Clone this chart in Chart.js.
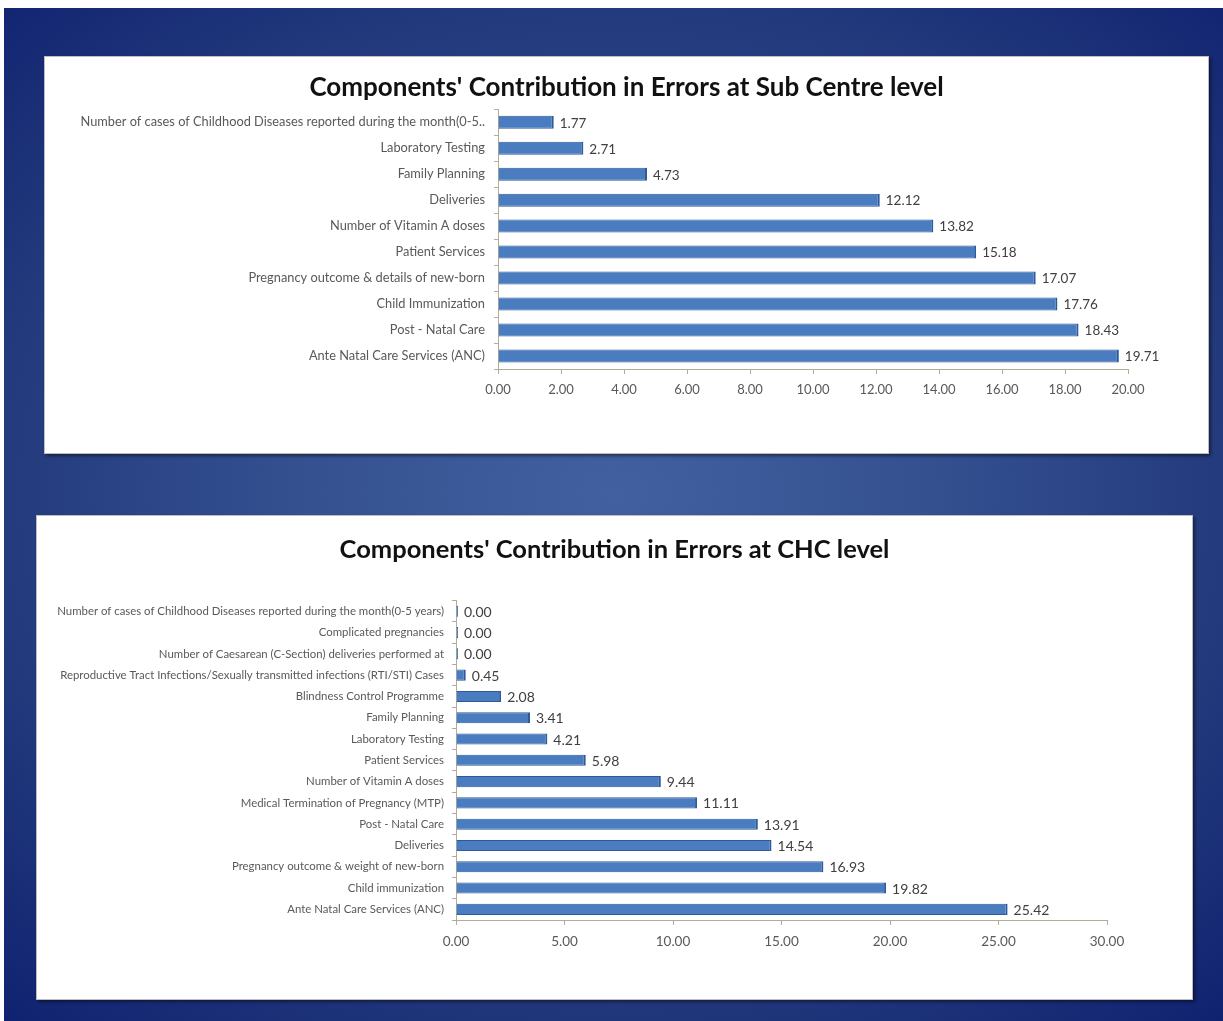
<!DOCTYPE html>
<html>
<head>
<meta charset="utf-8">
<script src="https://cdn.jsdelivr.net/npm/chart.js@4.4.1/dist/chart.umd.min.js"></script>
<style>
  html, body { margin: 0; padding: 0; background: #ffffff; }
  body { width: 1223px; height: 1021px; position: relative; overflow: hidden; }
  #bg {
    position: absolute; left: 4px; top: 8px; right: 0; bottom: 0;
    background: radial-gradient(ellipse 75% 70% at 50% 48%, #4260a0 0%, #34508f 35%, #22397c 70%, #0f2270 100%);
  }
  .panel {
    position: absolute; background: #ffffff;
    border: 1px solid #bdbdbd;
    box-shadow: 2px 2px 3px rgba(0,0,0,0.45);
  }
  .panel canvas { display: block; }
</style>
</head>
<body>
<div id="bg"></div>
<div class="panel" id="p1" style="left:44px; top:56px; width:1163px; height:396px;">
  <canvas id="c1" width="1163" height="396"></canvas>
</div>
<div class="panel" id="p2" style="left:36px; top:515px; width:1155px; height:483px;">
  <canvas id="c2" width="1155" height="483"></canvas>
</div>
<script>
// ---- Data: Sub Centre level ----
const subTitle = "Components' Contribution in Errors at Sub Centre level";
const subCategories = [
  "Number of cases of Childhood Diseases reported during the month(0-5..",
  "Laboratory Testing",
  "Family Planning",
  "Deliveries",
  "Number of Vitamin A doses",
  "Patient Services",
  "Pregnancy outcome & details of new-born",
  "Child Immunization",
  "Post - Natal Care",
  "Ante Natal Care Services (ANC)"
];
const subValues = [1.77, 2.71, 4.73, 12.12, 13.82, 15.18, 17.07, 17.76, 18.43, 19.71];
const subAxisMax = 20;
const subAxisStep = 2;

// ---- Data: CHC level ----
const chcTitle = "Components' Contribution in Errors at CHC level";
const chcCategories = [
  "Number of cases of Childhood Diseases reported during the month(0-5 years)",
  "Complicated pregnancies",
  "Number of Caesarean (C-Section) deliveries performed at",
  "Reproductive Tract Infections/Sexually transmitted infections (RTI/STI) Cases",
  "Blindness Control Programme",
  "Family Planning",
  "Laboratory Testing",
  "Patient Services",
  "Number of Vitamin A doses",
  "Medical Termination of Pregnancy (MTP)",
  "Post - Natal Care",
  "Deliveries",
  "Pregnancy outcome & weight of new-born",
  "Child immunization",
  "Ante Natal Care Services (ANC)"
];
const chcValues = [0.00, 0.00, 0.00, 0.45, 2.08, 3.41, 4.21, 5.98, 9.44, 11.11, 13.91, 14.54, 16.93, 19.82, 25.42];
const chcAxisMax = 30;
const chcAxisStep = 5;

const FONT = "Lato, 'Open Sans', 'Liberation Sans', sans-serif";
const AXIS_COLOR = '#b3ad98';
const LABEL_COLOR = '#595959';

function valueLabelsPlugin(fontSize) {
  return {
    id: 'valueLabels',
    afterDatasetsDraw(chart) {
      const ctx = chart.ctx;
      const meta = chart.getDatasetMeta(0);
      const data = chart.data.datasets[0].data;
      ctx.save();
      ctx.font = fontSize + 'px ' + FONT;
      ctx.fillStyle = '#404040';
      ctx.textAlign = 'left';
      ctx.textBaseline = 'middle';
      meta.data.forEach((bar, i) => {
        ctx.fillText(Number(data[i]).toFixed(2), bar.x + 6, bar.y + 1);
      });
      ctx.restore();
    }
  };
}

function makeChart(id, cfg) {
  return new Chart(document.getElementById(id), {
    type: 'bar',
    data: {
      labels: cfg.labels,
      datasets: [{
        data: cfg.values,
        backgroundColor: '#4a7cc0',
        borderColor: '#2f5a99',
        borderWidth: { top: 1, bottom: 1, left: 0, right: 2 },
        borderSkipped: 'start',
        barPercentage: cfg.barPct,
        categoryPercentage: 1.0,
        minBarLength: cfg.minBar
      }]
    },
    options: {
      indexAxis: 'y',
      responsive: false,
      animation: false,
      devicePixelRatio: 1,
      layout: { padding: 0 },
      plugins: {
        legend: { display: false },
        tooltip: { enabled: false },
        title: {
          display: true,
          text: cfg.title,
          color: '#111111',
          font: { family: FONT, size: cfg.titleSize, weight: 'bold' },
          padding: { top: cfg.titleTop, bottom: cfg.titleBottom }
        }
      },
      scales: {
        x: {
          min: 0, max: cfg.max,
          afterFit(s) { s.height = cfg.xHeight; },
          ticks: {
            stepSize: cfg.step,
            color: LABEL_COLOR,
            font: { family: FONT, size: cfg.tickSize },
            padding: cfg.xPad,
            callback: v => Number(v).toFixed(2)
          },
          grid: { drawOnChartArea: false, drawTicks: true, tickLength: 5, color: AXIS_COLOR },
          border: { display: true, color: AXIS_COLOR, width: 1 }
        },
        y: {
          afterFit(s) { s.width = cfg.yWidth; },
          ticks: {
            color: LABEL_COLOR,
            font: { family: FONT, size: cfg.catSize },
            padding: cfg.catPad,
            autoSkip: false
          },
          grid: { offset: true, drawOnChartArea: false, drawTicks: true, tickLength: 4, color: AXIS_COLOR },
          border: { display: true, color: AXIS_COLOR, width: 1 }
        },
        yRightSpace: {
          type: 'category',
          position: 'right',
          display: true,
          afterFit(s) { s.width = cfg.rightSpace; },
          ticks: { display: false },
          grid: { display: false, drawTicks: false },
          border: { display: false }
        }
      }
    },
    plugins: [valueLabelsPlugin(cfg.valueSize)]
  });
}

makeChart('c1', {
  labels: subCategories, values: subValues, title: subTitle,
  max: subAxisMax, step: subAxisStep,
  titleSize: 26, titleTop: 15, titleBottom: 6,
  yWidth: 453, rightSpace: 80, xHeight: 84,
  tickSize: 13, xPad: 8, catSize: 12.8, catPad: 9, valueSize: 13.5,
  barPct: 0.5, minBar: 0
});

makeChart('c2', {
  labels: chcCategories, values: chcValues, title: chcTitle,
  max: chcAxisMax, step: chcAxisStep,
  titleSize: 25.5, titleTop: 18, titleBottom: 36,
  yWidth: 419, rightSpace: 85, xHeight: 79,
  tickSize: 13.5, xPad: 9, catSize: 11.4, catPad: 8, valueSize: 14,
  barPct: 0.52, minBar: 2
});
</script>
</body>
</html>
